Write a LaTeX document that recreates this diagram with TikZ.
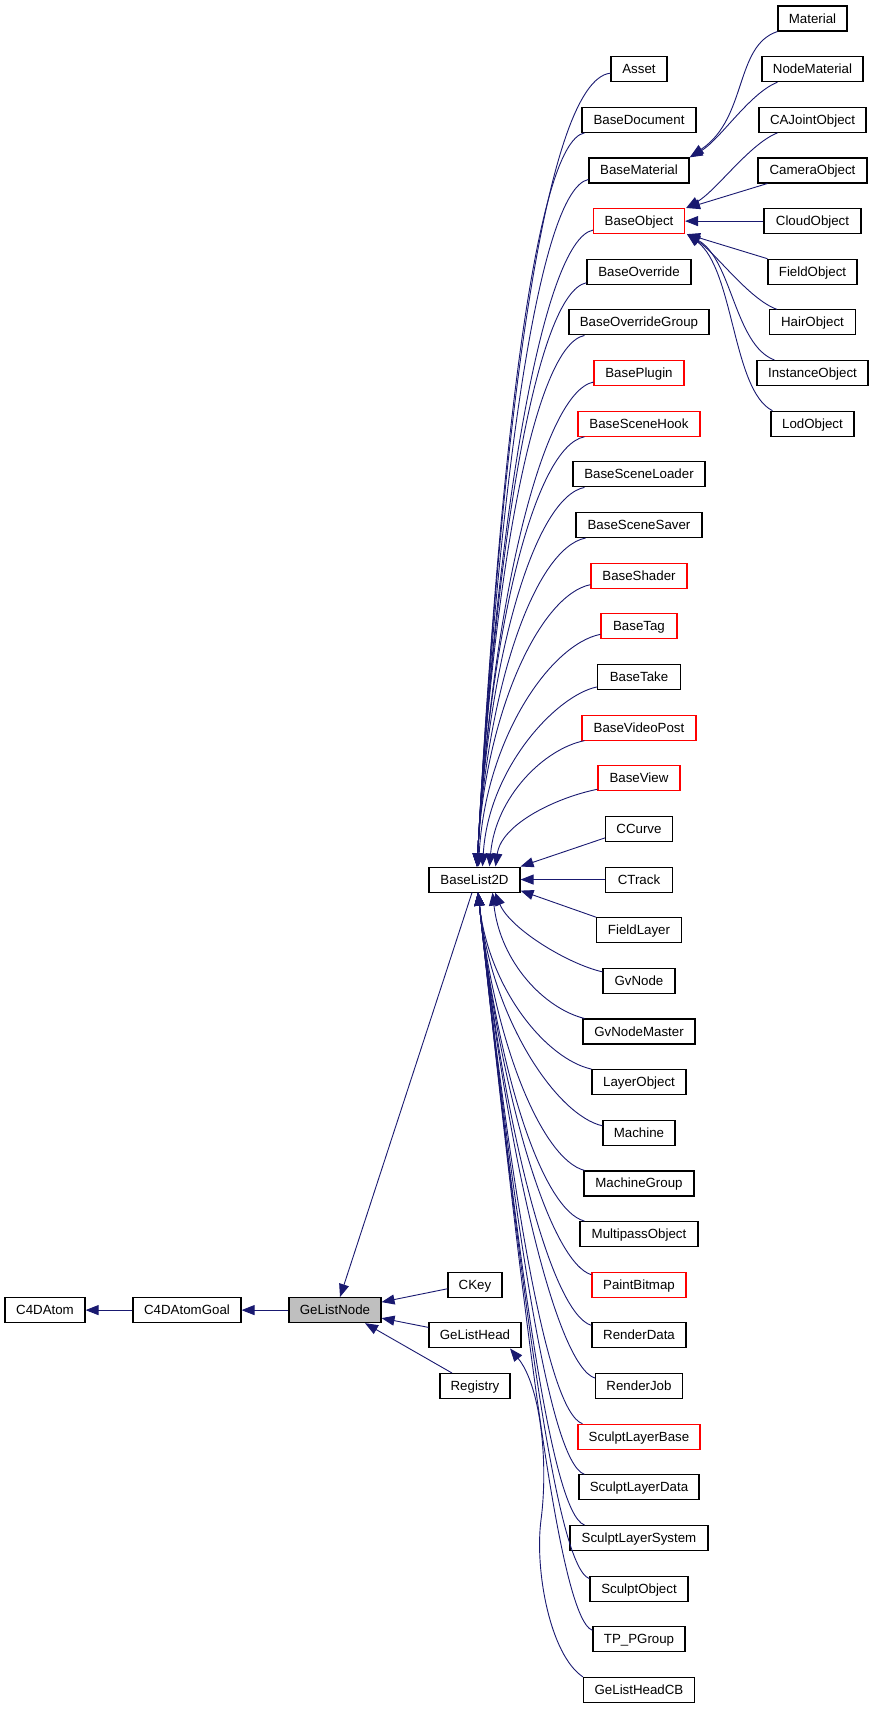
\documentclass[tikz,border=0pt]{standalone}
\usepackage{fontspec}
\setmainfont{Liberation Sans}
\usetikzlibrary{arrows.meta}
\definecolor{edgeblue}{HTML}{191970}
\definecolor{boxred}{HTML}{FF0000}
\definecolor{boxgray}{HTML}{BFBFBF}
\begin{document}
\begin{tikzpicture}[x=1pt,y=-1pt,
  cls/.style={draw=black, line width=1.1pt, minimum height=25pt, inner sep=0pt,
    text height=9.5pt, text depth=0.5pt, font=\fontsize{13.3}{15}\selectfont, text=black},
  redcls/.style={cls, draw=boxred},
  bw/.style={minimum width=#1},
  edge/.style={draw=edgeblue, line width=0.9pt, -{Triangle[length=13pt,width=10pt]}}]
\useasboundingbox (0,0) rectangle (873,1709);

% left part
\node[cls,bw=80pt] (C4DAtom) at (45,1310.1) {C4DAtom};
\node[cls,bw=108pt] (C4DAtomGoal) at (187,1310.1) {C4DAtomGoal};
\node[cls,bw=92pt,fill=boxgray] (GeListNode) at (335,1310.1) {GeListNode};
\node[cls,bw=54pt] (CKey) at (475,1284.75) {CKey};
\node[cls,bw=92pt] (GeListHead) at (475,1335.4) {GeListHead};
\node[cls,bw=70pt] (Registry) at (475,1386.05) {Registry};
\node[cls,bw=91pt] (BaseList2D) at (474.5,879.55) {BaseList2D};

% middle column
\node[cls,bw=56pt] (Asset) at (639,69.15) {Asset};
\node[cls,bw=114pt] (BaseDocument) at (639,119.8) {BaseDocument};
\node[cls,bw=100pt] (BaseMaterial) at (639,170.45) {BaseMaterial};
\node[redcls,bw=91pt] (BaseObject) at (639,221.1) {BaseObject};
\node[cls,bw=104pt] (BaseOverride) at (639,271.75) {BaseOverride};
\node[cls,bw=140pt] (BaseOverrideGroup) at (639,322.4) {BaseOverrideGroup};
\node[redcls,bw=90pt] (BasePlugin) at (639,373.05) {BasePlugin};
\node[redcls,bw=122pt] (BaseSceneHook) at (639,423.7) {BaseSceneHook};
\node[cls,bw=132pt] (BaseSceneLoader) at (639,474.35) {BaseSceneLoader};
\node[cls,bw=126pt] (BaseSceneSaver) at (639,525.0) {BaseSceneSaver};
\node[redcls,bw=96pt] (BaseShader) at (639,575.65) {BaseShader};
\node[redcls,bw=76pt] (BaseTag) at (639,626.3) {BaseTag};
\node[cls,bw=83pt] (BaseTake) at (639,676.95) {BaseTake};
\node[redcls,bw=114pt] (BaseVideoPost) at (639,727.6) {BaseVideoPost};
\node[redcls,bw=82pt] (BaseView) at (639,778.25) {BaseView};
\node[cls,bw=67pt] (CCurve) at (639,828.9) {CCurve};
\node[cls,bw=67pt] (CTrack) at (639,879.55) {CTrack};
\node[cls,bw=85pt] (FieldLayer) at (639,930.2) {FieldLayer};
\node[cls,bw=72pt] (GvNode) at (639,980.85) {GvNode};
\node[cls,bw=112pt] (GvNodeMaster) at (639,1031.5) {GvNodeMaster};
\node[cls,bw=94pt] (LayerObject) at (639,1082.15) {LayerObject};
\node[cls,bw=72pt] (Machine) at (639,1132.8) {Machine};
\node[cls,bw=110pt] (MachineGroup) at (639,1183.45) {MachineGroup};
\node[cls,bw=118pt] (MultipassObject) at (639,1234.1) {MultipassObject};
\node[redcls,bw=94pt] (PaintBitmap) at (639,1284.75) {PaintBitmap};
\node[cls,bw=94pt] (RenderData) at (639,1335.4) {RenderData};
\node[cls,bw=87pt] (RenderJob) at (639,1386.05) {RenderJob};
\node[redcls,bw=122pt] (SculptLayerBase) at (639,1436.7) {SculptLayerBase};
\node[cls,bw=120pt] (SculptLayerData) at (639,1487.35) {SculptLayerData};
\node[cls,bw=138pt] (SculptLayerSystem) at (639,1538.0) {SculptLayerSystem};
\node[cls,bw=98pt] (SculptObject) at (639,1588.65) {SculptObject};
\node[cls,bw=92pt] (TPPGroup) at (639,1639.3) {TP\_PGroup};
\node[cls,bw=111pt] (GeListHeadCB) at (639,1689.95) {GeListHeadCB};

% right column
\node[cls,bw=69pt] (Material) at (812.5,18.5) {Material};
\node[cls,bw=101pt] (NodeMaterial) at (812.5,69.15) {NodeMaterial};
\node[cls,bw=107pt] (CAJointObject) at (812.5,119.8) {CAJointObject};
\node[cls,bw=109pt] (CameraObject) at (812.5,170.45) {CameraObject};
\node[cls,bw=97pt] (CloudObject) at (812.5,221.1) {CloudObject};
\node[cls,bw=89pt] (FieldObject) at (812.5,271.75) {FieldObject};
\node[cls,bw=86pt] (HairObject) at (812.5,322.4) {HairObject};
\node[cls,bw=111pt] (InstanceObject) at (812.5,373.05) {InstanceObject};
\node[cls,bw=83pt] (LodObject) at (812.5,423.7) {LodObject};

% left edges
\draw[edge] (C4DAtomGoal.west) -- (C4DAtom.east);
\draw[edge] (GeListNode.west) -- (C4DAtomGoal.east);
\draw[edge] ([xshift=-2.5pt]BaseList2D.south) -- ([xshift=5pt]GeListNode.north);
\draw[edge] ([yshift=-4pt]CKey.west) -- ([yshift=8pt]GeListNode.east);
\draw[edge] ([yshift=8pt]GeListHead.west) -- ([yshift=-8pt]GeListNode.east);
\draw[edge] ([xshift=-23pt]Registry.north) -- ([xshift=30pt]GeListNode.south);

% GeListHeadCB -> GeListHead
\coordinate (cbmid) at (541,1520);
\draw[edge] (GeListHeadCB.north west) .. controls (550,1655) and (534.5,1570) .. (cbmid)
  .. controls (548.8,1460) and (540,1385) .. ([xshift=35pt]GeListHead.south);

% upper children of BaseList2D
\draw[edge] ([yshift=-4pt]Asset.west) .. controls +(-66,7) and +(24,-436.5) .. ([xshift=2.5pt]BaseList2D.north);
\draw[edge] ([xshift=3pt]BaseDocument.south west) .. controls +(-50,10) and +(22,-404) .. ([xshift=2.5pt]BaseList2D.north);
\draw[edge] ([yshift=-9pt]BaseMaterial.west) .. controls +(-50,10) and +(21,-378) .. ([xshift=2.5pt]BaseList2D.north);
\draw[edge] ([yshift=-9pt]BaseObject.west) .. controls +(-50,10) and +(19,-350) .. ([xshift=2.5pt]BaseList2D.north);
\draw[edge] ([yshift=-11pt]BaseOverride.west) .. controls +(-50,10) and +(18,-321) .. ([xshift=2.5pt]BaseList2D.north);
\draw[edge] ([xshift=16pt]BaseOverrideGroup.south west) .. controls +(-50,10) and +(16,-293) .. ([xshift=2.5pt]BaseList2D.north);
\draw[edge] ([yshift=-9pt]BasePlugin.west) .. controls +(-50,10) and +(15,-267) .. ([xshift=2.5pt]BaseList2D.north);
\draw[edge] ([xshift=7pt]BaseSceneHook.south west) .. controls +(-50,10) and +(13,-237) .. ([xshift=2.5pt]BaseList2D.north);
\draw[edge] ([xshift=12pt]BaseSceneLoader.south west) .. controls +(-50,10) and +(11,-209) .. ([xshift=2.5pt]BaseList2D.north);
\draw[edge] ([xshift=10pt]BaseSceneSaver.south west) .. controls +(-50,10) and +(10,-181) .. ([xshift=2.5pt]BaseList2D.north);
\draw[edge] ([yshift=-9pt]BaseShader.west) .. controls +(-50,10) and +(8,-155) .. ([xshift=2.5pt]BaseList2D.north);
\draw[edge] ([yshift=-8pt]BaseTag.west) .. controls +(-50,10) and +(7,-128) .. ([xshift=4pt]BaseList2D.north);
\draw[edge] ([yshift=-10pt]BaseTake.west) .. controls +(-40,8) and +(6,-99) .. ([xshift=8pt]BaseList2D.north);
\draw[edge] ([xshift=3pt]BaseVideoPost.south west) .. controls +(-40,8) and +(6,-70) .. ([xshift=15pt]BaseList2D.north);
\draw[edge] ([yshift=-11pt]BaseView.west) .. controls +(-40,8) and +(6,-43) .. ([xshift=21pt]BaseList2D.north);
\draw[edge] ([yshift=-9pt]CCurve.west) -- (BaseList2D.north east);
\draw[edge] (CTrack.west) -- (BaseList2D.east);
\draw[edge] (FieldLayer.north west) -- ([yshift=2pt]BaseList2D.south east);

% lower children of BaseList2D
\draw[edge] ([yshift=9pt]GvNode.west) .. controls +(-35,-8) and +(15,36) .. ([xshift=20.5pt]BaseList2D.south);
\draw[edge] ([xshift=2pt]GvNodeMaster.north west) .. controls +(-40,-10) and +(8,70) .. ([xshift=18pt]BaseList2D.south);
\draw[edge] (LayerObject.north west) .. controls +(-45,-10) and +(11,97) .. ([xshift=3.5pt]BaseList2D.south);
\draw[edge] ([yshift=7pt]Machine.west) .. controls +(-45,-10) and +(14,128) .. ([xshift=3.5pt]BaseList2D.south);
\draw[edge] ([xshift=1pt]MachineGroup.north west) .. controls +(-42,-11) and +(17,153) .. ([xshift=3.5pt]BaseList2D.south);
\draw[edge] ([xshift=5pt]MultipassObject.north west) .. controls +(-42,-11) and +(20,181) .. ([xshift=3.5pt]BaseList2D.south);
\draw[edge] ([yshift=10pt]PaintBitmap.west) .. controls +(-40,-12) and +(23,210) .. ([xshift=3.5pt]BaseList2D.south);
\draw[edge] ([yshift=10pt]RenderData.west) .. controls +(-40,-12) and +(26,238) .. ([xshift=3.5pt]BaseList2D.south);
\draw[edge] ([yshift=8pt]RenderJob.west) .. controls +(-38,-12) and +(29,267) .. ([xshift=3.5pt]BaseList2D.south);
\draw[edge] ([xshift=5pt]SculptLayerBase.north west) .. controls +(-36,-12) and +(32,292) .. ([xshift=3.5pt]BaseList2D.south);
\draw[edge] ([xshift=6pt]SculptLayerData.north west) .. controls +(-36,-12) and +(35,320) .. ([xshift=3.5pt]BaseList2D.south);
\draw[edge] ([xshift=15pt]SculptLayerSystem.north west) .. controls +(-35,-12) and +(38,348) .. ([xshift=3.5pt]BaseList2D.south);
\draw[edge] ([yshift=10pt]SculptObject.west) .. controls +(-35,-12) and +(41,377) .. ([xshift=3.5pt]BaseList2D.south);
\draw[edge] ([yshift=9pt]TPPGroup.west) .. controls +(-35,-12) and +(44,406) .. ([xshift=3.5pt]BaseList2D.south);

% right column edges
\draw[edge] (Material.south west) .. controls +(-43,14) and +(57,-38) .. ([xshift=1pt,yshift=1pt]BaseMaterial.north east);
\draw[edge] ([xshift=16pt]NodeMaterial.south west) .. controls +(-28,11) and +(30,-17) .. (BaseMaterial.north east);
\draw[edge] ([xshift=19pt]CAJointObject.south west) .. controls +(-28,11) and +(30,-17) .. ([xshift=1pt]BaseObject.north east);
\draw[edge] ([xshift=10pt]CameraObject.south west) -- ([xshift=2pt]BaseObject.north east);
\draw[edge] (CloudObject.west) -- (BaseObject.east);
\draw[edge] (FieldObject.north west) -- ([xshift=2pt]BaseObject.south east);
\draw[edge] ([xshift=8pt]HairObject.north west) .. controls +(-28,-10) and +(28,18) .. ([xshift=2pt]BaseObject.south east);
\draw[edge] ([xshift=18pt]InstanceObject.north west) .. controls +(-40,-15) and +(45,25) .. ([xshift=2pt]BaseObject.south east);
\draw[edge] ([xshift=2pt]LodObject.north west) .. controls +(-40,-20) and +(47,35) .. ([xshift=2pt]BaseObject.south east);
\end{tikzpicture}
\end{document}
